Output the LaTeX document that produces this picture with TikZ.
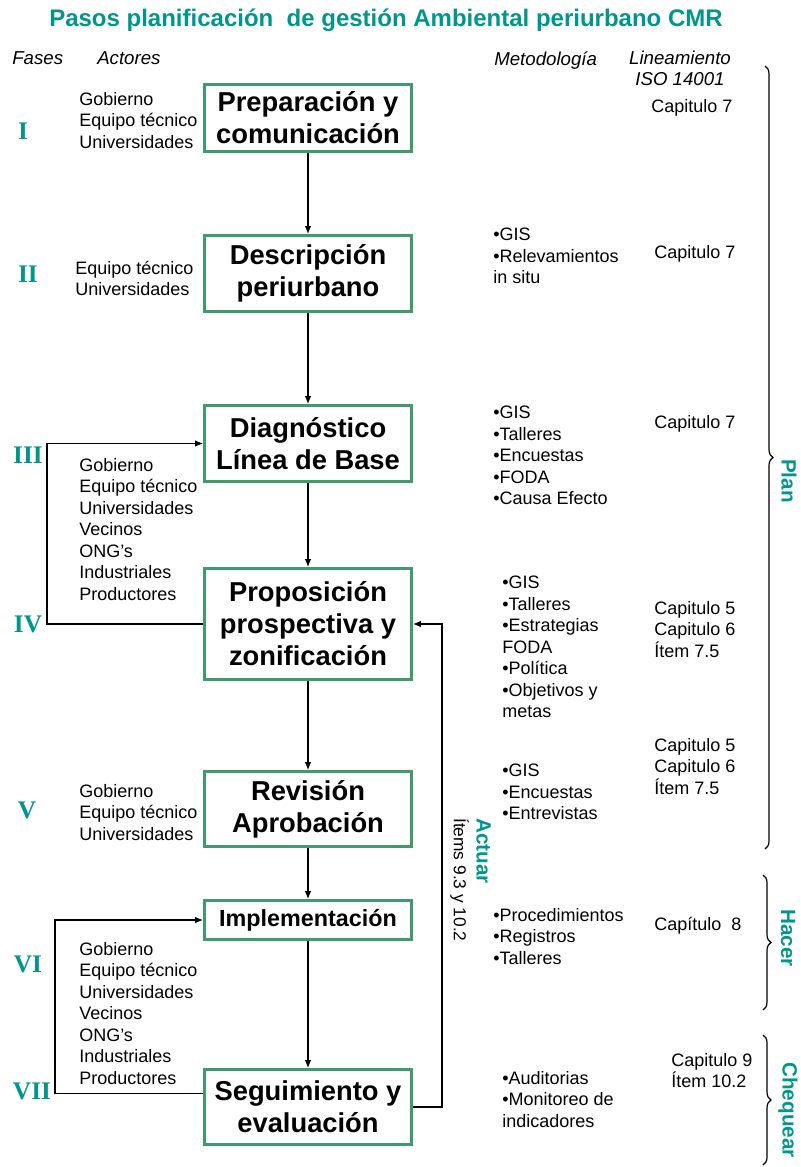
\documentclass[tikz,border=0pt]{standalone}
\usepackage{fontspec}
\setmainfont{Liberation Sans}
\newfontfamily\romanfont{Liberation Serif}
\usetikzlibrary{arrows.meta,decorations.pathreplacing}

\begin{document}
\begin{tikzpicture}[x=0.75pt, y=-0.75pt,
        caja/.style={draw=verdecaja, line width=2.2pt, minimum width=207*0.75pt,
            align=center, inner sep=0pt},
        texto/.style={anchor=north west, align=left, inner sep=0pt,
            font=\fontsize{13.5}{16.1}\selectfont},
        cabecera/.style={anchor=north west, align=center, inner sep=0pt,
            font=\itshape\fontsize{14}{15.5}\selectfont},
        fase/.style={font=\romanfont\bfseries\fontsize{19}{19}\selectfont, text=turquesa},
        flecha/.style={-{Latex[length=6pt,width=5pt]}, line width=0.9pt},
        llave/.style={decorate, decoration={brace, amplitude=6pt}, line width=0.9pt},
        etapa/.style={rotate=-90, font=\bfseries\fontsize{15.5}{18}\selectfont, text=turquesa}]

        % Colores
        \definecolor{turquesa}{RGB}{0,150,140}
        \definecolor{verdecaja}{RGB}{64,155,106}

        \useasboundingbox (0,0) rectangle (800,1167);

        % Actores
        \def\actoreslargos{Gobierno\\Equipo técnico\\Universidades\\Vecinos\\ONG’s\\Industriales\\Productores}
        \def\actorescortos{Gobierno\\Equipo técnico\\Universidades}

        % Titulo y cabeceras
        \node[font=\bfseries\fontsize{18}{20}\selectfont, text=turquesa] (titulo) at (386,20)
            {Pasos planificación~ de gestión Ambiental periurbano CMR};
        \node[cabecera] (fases) at (12,51) {Fases};
        \node[cabecera] (actores) at (97,51) {Actores};
        \node[cabecera] (metodo) at (494,51) {Metodología};
        \node[cabecera, anchor=north] (lineam) at (680,51) {Lineamiento\\ISO 14001};

        % Cajas de los pasos
        \foreach \nombre/\y/\alto/\tam/\texto in {
            p1/118/67/20.5/{Preparación y\\comunicación},
            p2/273.5/76/20.5/{Descripción\\periurbano},
            p3/443.5/76/20.5/{Diagnóstico\\Línea de Base},
            p4/624/111/20.5/{Proposición\\prospectiva y\\zonificación},
            p5/809/75/20.5/{Revisión\\Aprobación},
            p6/920/39/17.5/{Implementación},
            p7/1107/75/20.5/{Seguimiento y\\evaluación}} {
            \node[caja, minimum height=\alto*0.75pt,
                font=\bfseries\fontsize{\tam}{24}\selectfont] (\nombre) at (308,\y) {\texto};
        }

        % Fases
        \foreach \nombre/\x/\y/\num in {f1/23/131/I, f2/28/274/II, f3/28/455/III,
            f4/28/624/IV, f5/27/810/V, f6/28/964/VI, f7/32/1091/VII} {
            \node[fase] (\nombre) at (\x,\y) {\num};
        }

        % Columnas de texto
        \node[texto] (a1) at (79,92) {\actorescortos};
        \node[texto] (a2) at (75,261) {Equipo técnico\\Universidades};
        \node[texto] (a3) at (79,458) {\actoreslargos};
        \node[texto] (a5) at (79,784) {\actorescortos};
        \node[texto] (a6) at (79,942) {\actoreslargos};

        \node[texto] (m2) at (493,228) {•GIS\\•Relevamientos\\in situ};
        \node[texto] (m3) at (493,406) {•GIS\\•Talleres\\•Encuestas\\•FODA\\•Causa Efecto};
        \node[texto] (m4) at (502,576) {•GIS\\•Talleres\\•Estrategias\\FODA\\•Política\\•Objetivos y\\metas};
        \node[texto] (m5) at (502,764) {•GIS\\•Encuestas\\•Entrevistas};
        \node[texto] (m6) at (493,908) {•Procedimientos\\•Registros\\•Talleres};
        \node[texto] (m7) at (502,1071) {•Auditorias\\•Monitoreo de\\indicadores};

        \node[texto] (l1) at (651,99) {Capitulo 7};
        \node[texto] (l2) at (654,245) {Capitulo 7};
        \node[texto] (l3) at (654,415) {Capitulo 7};
        \node[texto] (l4) at (654,601) {Capitulo 5\\Capitulo 6\\Ítem 7.5};
        \node[texto] (l5) at (654,738) {Capitulo 5\\Capitulo 6\\Ítem 7.5};
        \node[texto] (l6) at (654,917) {Capítulo~~8};
        \node[texto] (l7) at (671,1053) {Capitulo 9\\Ítem 10.2};

        % Flechas entre pasos
        \foreach \a/\b in {p1/p2, p2/p3, p3/p4, p4/p5, p5/p6, p6/p7} {
            \draw[flecha] (\a) -- (\b);
        }

        % Retornos
        \coordinate (v1) at (47,0);
        \coordinate (v2) at (55,0);
        \coordinate (v3) at (442,0);
        \draw[flecha] (p4.west) -- (p4.west -| v1) |- (p3.west);
        \draw[flecha] ([yshift=10pt]p7.west) -- ([yshift=10pt]p7.west -| v2) |- (p6.west);
        \draw[flecha] (p7.east) -- (p7.east -| v3) |- (p4.east);
        \node[rotate=-90, anchor=north west, align=left, inner sep=0pt,
            font=\fontsize{13}{17}\selectfont] (actuar) at (491,818)
            {\textcolor{turquesa}{\bfseries\fontsize{15.5}{17}\selectfont Actuar}\\Ítems 9.3 y 10.2};

        % Llaves PHVA
        \draw[llave] (765,66) -- (765,849);
        \draw[llave] (763,875) -- (763,1010);
        \draw[llave] (763,1035) -- (763,1165);
        \node[etapa] (plan) at (789,481) {Plan};
        \node[etapa] (hacer) at (788,938) {Hacer};
        \node[etapa] (chequear) at (788,1110) {Chequear};

    \end{tikzpicture}
\end{document}
